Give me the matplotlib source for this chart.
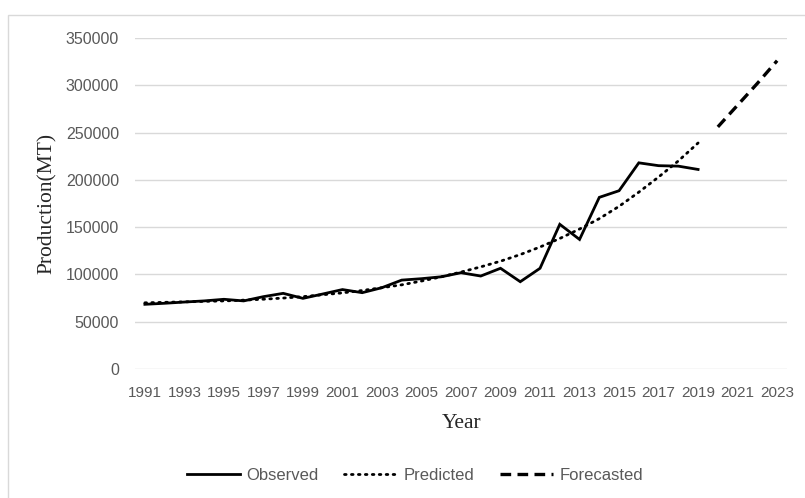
import matplotlib
matplotlib.use("Agg")
import matplotlib.pyplot as plt
from matplotlib.patches import Rectangle

# Annual production (MT)
years = list(range(1991, 2024))
observed_years = list(range(1991, 2020))
observed = [68400, 69500, 70800, 72000, 73700, 72000, 76500, 80000, 74700, 79300,
            84000, 80700, 86000, 94000, 95500, 97500, 101800, 98300, 106500, 92300,
            106500, 153000, 137000, 181500, 188500, 218000, 215000, 214500, 211000]
predicted_years = list(range(1991, 2020))
predicted = [70000, 70500, 71000, 71500, 72000, 72800, 73800, 75000, 76500, 78500,
             80500, 83000, 86000, 89000, 93000, 97500, 102500, 108000, 114000, 121000,
             129000, 138000, 148000, 159000, 172000, 187000, 203000, 220000, 239000]
forecast_years = [2020, 2021, 2022, 2023]
forecasted = [256000, 279000, 302000, 326000]
y_ticks = [0, 50000, 100000, 150000, 200000, 250000, 300000, 350000]

tick_color = "#595959"
grid_color = "#d9d9d9"
tick_font = ["Liberation Sans", "DejaVu Sans"]

fig = plt.figure(figsize=(8.05, 4.98), dpi=100)
fig.patch.set_facecolor("white")

# chart border
fig.add_artist(Rectangle((8 / 805, -0.01), 1.0, 1 - 15 / 498 + 0.01,
                         transform=fig.transFigure, fill=False,
                         edgecolor="#d9d9d9", linewidth=1.0))

ax = fig.add_axes([135 / 805, 1 - 369 / 498, 652 / 805, (369 - 38) / 498])
idx = {y: i for i, y in enumerate(years)}

ax.plot([idx[y] for y in observed_years], observed, color="black", lw=2.0,
        solid_joinstyle="miter", label="Observed", zorder=3)
ax.plot([idx[y] for y in predicted_years], predicted, color="black", lw=2.0,
        linestyle=(0, (0.6, 1.9)), dash_capstyle="round", label="Predicted", zorder=4)
ax.plot([idx[y] for y in forecast_years], forecasted, color="black", lw=2.4,
        linestyle=(0, (3.2, 1.9)), label="Forecasted", zorder=3)

ax.set_xlim(-0.5, len(years) - 0.5)
ax.set_ylim(0, 350000)
ax.set_yticks(y_ticks)
ax.set_yticklabels([str(v) for v in y_ticks], color=tick_color,
                   family=tick_font, fontsize=11.5)
ax.set_xticks(range(0, len(years), 2))
ax.set_xticklabels([str(y) for y in years[::2]], color=tick_color,
                   family=tick_font, fontsize=11)
ax.tick_params(axis="both", length=0)
ax.tick_params(axis="y", pad=11.5)
ax.tick_params(axis="x", pad=12)
ax.grid(axis="y", color=grid_color, lw=1.0)
ax.set_axisbelow(True)
for s in ax.spines.values():
    s.set_visible(False)

fig.text(462 / 805, 1 - 423 / 498, "Year", family="Liberation Serif",
         fontsize=15.5, color="#262626", ha="center", va="center")
fig.text(47 / 805, 1 - 203 / 498, "Production(MT)", family="Liberation Serif",
         fontsize=15.5, color="#262626", ha="center", va="center", rotation=90)

leg = fig.legend(loc="center", bbox_to_anchor=(415 / 805, 1 - 475 / 498), ncol=3,
                 frameon=False, handlelength=3.2, columnspacing=1.5,
                 handletextpad=0.4, prop={"family": tick_font, "size": 12})
for t in leg.get_texts():
    t.set_color(tick_color)

fig.savefig("out.png", dpi=100)
